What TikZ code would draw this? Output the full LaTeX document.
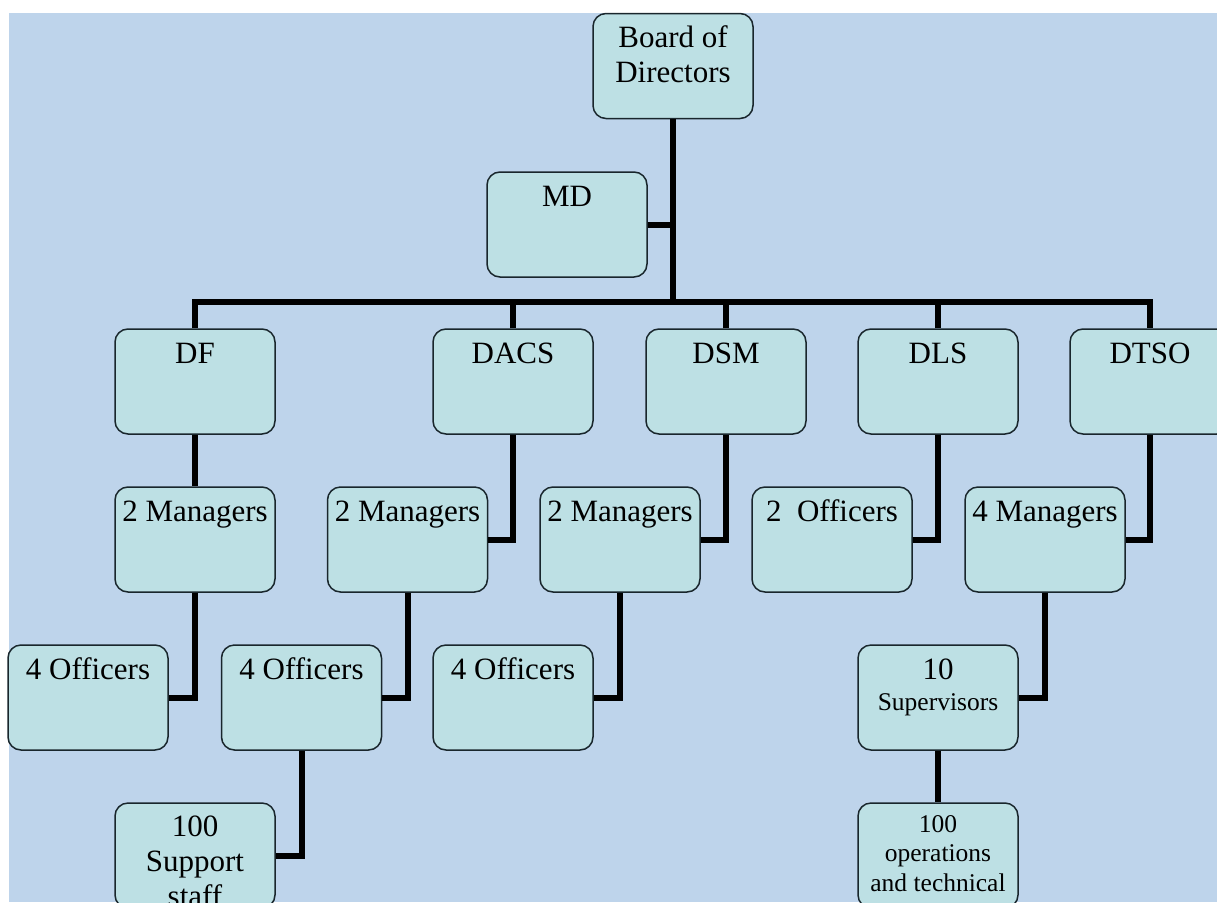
\documentclass[tikz,border=0pt]{standalone}
\usepackage{fontspec}
\setmainfont{Liberation Serif}
\usetikzlibrary{calc}
\definecolor{bgblue}{RGB}{190,212,235}
\definecolor{boxfill}{RGB}{189,224,228}
\definecolor{boxline}{RGB}{25,38,44}
\tikzset{
  orgbox/.style={draw=boxline, line width=1.5pt, fill=boxfill, rounded corners=13pt,
    minimum width=160pt, minimum height=105pt, inner sep=0pt},
  lab/.style={anchor=base, align=center, inner sep=0pt, text=black,
    font=\fontsize{31}{35}\selectfont},
  smalllab/.style={lab, font=\fontsize{25.5}{29.5}\selectfont},
  conn/.style={line width=6pt, black},
}
\begin{document}
\begin{tikzpicture}[x=1pt, y=-1pt]
\useasboundingbox (0,0) rectangle (1217,902);
\fill[bgblue] (9,13) rectangle (1217,902);
\clip (0,0) rectangle (1217,902);
% boxes
\node[orgbox] (board) at (673,66) {};
\node[orgbox] (md) at (567,224.5) {};
\node[orgbox] (df) at (195,381.5) {};
\node[orgbox] (dacs) at (513,381.5) {};
\node[orgbox] (dsm) at (726,381.5) {};
\node[orgbox] (dls) at (938,381.5) {};
\node[orgbox] (dtso) at (1150,381.5) {};
\node[orgbox] (m1) at (195,539.5) {};
\node[orgbox] (m2) at (407.5,539.5) {};
\node[orgbox] (m3) at (620,539.5) {};
\node[orgbox] (o2) at (832,539.5) {};
\node[orgbox] (m4) at (1045,539.5) {};
\node[orgbox] (of1) at (88,697.5) {};
\node[orgbox] (of2) at (301.5,697.5) {};
\node[orgbox] (of3) at (513,697.5) {};
\node[orgbox] (sup) at (938,697.5) {};
\node[orgbox] (staff) at (195,855.5) {};
\node[orgbox] (ops) at (938,855.5) {};
% labels (base anchor = baseline of the last line)
\node[lab] (tboard) at ($(board.north)+(0,70)$) {Board of\\Directors};
\node[lab] (tmd) at ($(md.north)+(0,35)$) {MD};
\node[lab] (tdf) at ($(df.north)+(0,35)$) {DF};
\node[lab] (tdacs) at ($(dacs.north)+(0,35)$) {DACS};
\node[lab] (tdsm) at ($(dsm.north)+(0,35)$) {DSM};
\node[lab] (tdls) at ($(dls.north)+(0,35)$) {DLS};
\node[lab] (tdtso) at ($(dtso.north)+(0,35)$) {DTSO};
\node[lab] (tm1) at ($(m1.north)+(0,35)$) {2 Managers};
\node[lab] (tm2) at ($(m2.north)+(0,35)$) {2 Managers};
\node[lab] (tm3) at ($(m3.north)+(0,35)$) {2 Managers};
\node[lab] (to2) at ($(o2.north)+(0,35)$) {2\ \ Officers};
\node[lab] (tm4) at ($(m4.north)+(0,35)$) {4 Managers};
\node[lab] (tof1) at ($(of1.north)+(0,35)$) {4 Officers};
\node[lab] (tof2) at ($(of2.north)+(0,35)$) {4 Officers};
\node[lab] (tof3) at ($(of3.north)+(0,35)$) {4 Officers};
\node[lab] (tsup) at ($(sup.north)+(0,66)$) {10\\[-4pt]\fontsize{25.5}{29.5}\selectfont Supervisors};
\node[lab] (tstaff) at ($(staff.north)+(0,104)$) {100\\Support\\staff};
\node[smalllab] (tops) at ($(ops.north)+(0,89)$) {100\\operations\\and technical};
% connectors
\coordinate (bus) at (673,302);
\draw[conn] (board.south) -- (board.south |- bus);
\draw[conn] (md.east) -- (md.east -| board.south);
\draw[conn] (df.north) -- (df.north |- bus) -- (dtso.north |- bus) -- (dtso.north);
\draw[conn] (dacs.north) -- (dacs.north |- bus);
\draw[conn] (dsm.north) -- (dsm.north |- bus);
\draw[conn] (dls.north) -- (dls.north |- bus);
\draw[conn] (df.south) -- (m1.north);
\draw[conn] (dacs.south) |- (m2.east);
\draw[conn] (dsm.south) |- (m3.east);
\draw[conn] (dls.south) |- (o2.east);
\draw[conn] (dtso.south) |- (m4.east);
\draw[conn] (m1.south) |- (of1.east);
\draw[conn] (m2.south) |- (of2.east);
\draw[conn] (m3.south) |- (of3.east);
\draw[conn] (m4.south) |- (sup.east);
\draw[conn] (of2.south) |- (staff.east);
\draw[conn] (sup.south) -- (ops.north);
\end{tikzpicture}
\end{document}
